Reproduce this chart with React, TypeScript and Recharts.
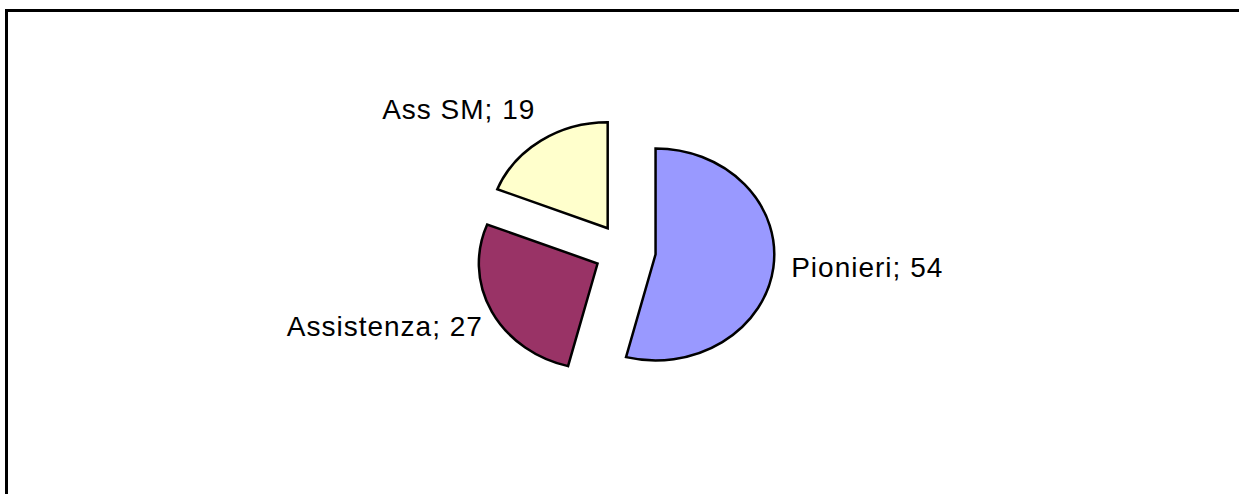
import { Pie, PieChart } from "recharts";

const names = ["Pionieri", "Assistenza", "Ass SM"];
const values = [54, 27, 19];
const colors = ["#9999FF", "#993366", "#FFFFCC"];

const data = names.map((name, i) => ({ name, value: values[i], fill: colors[i] }));

const RAD = Math.PI / 180;
// the pie in the picture is a little wider than tall
const SX = 1.12;
const EXPLODE = 27.5;
const FONT = 28;

function slicePoint(cx: number, cy: number, rx: number, ry: number, angle: number) {
  return [cx + rx * Math.cos(-angle * RAD), cy + ry * Math.sin(-angle * RAD)];
}

function ExplodedSlice(props: any) {
  const { cx, cy, outerRadius, startAngle, endAngle, fill } = props;
  const mid = props.midAngle ?? (startAngle + endAngle) / 2;
  const [ox, oy] = slicePoint(cx, cy, EXPLODE * SX, EXPLODE, mid);
  const rx = outerRadius * SX;
  const ry = outerRadius;
  const [x1, y1] = slicePoint(ox, oy, rx, ry, startAngle);
  const [x2, y2] = slicePoint(ox, oy, rx, ry, endAngle);
  const large = Math.abs(endAngle - startAngle) > 180 ? 1 : 0;
  const sweep = startAngle > endAngle ? 1 : 0;
  return (
    <path
      d={`M${ox},${oy}L${x1},${y1}A${rx},${ry} 0 ${large} ${sweep} ${x2},${y2}Z`}
      fill={fill}
      stroke="#000"
      strokeWidth={2.5}
      strokeLinejoin="miter"
    />
  );
}

// outside-end labels, roughly the way the spreadsheet placed them
function SliceLabel(props: any) {
  const { cx, cy, outerRadius, midAngle, name, value } = props;
  const [ox, oy] = slicePoint(cx, cy, EXPLODE * SX, EXPLODE, midAngle);
  const c = Math.cos(-midAngle * RAD);
  const s = Math.sin(-midAngle * RAD);
  const gap = c >= 0 ? 18 : 10;
  const x = ox + (outerRadius * SX + gap) * c;
  const capCenter = oy + (outerRadius + 18) * s + s * (s > 0 ? 26 : 13) - 6;
  return (
    <text
      x={x}
      y={capCenter + FONT * 0.36}
      textAnchor={c >= 0 ? "start" : "end"}
      fontFamily="'Liberation Sans', Arial, sans-serif"
      fontSize={FONT}
      letterSpacing={1}
      fill="#000"
    >
      {`${name}; ${value}`}
    </text>
  );
}

export default function App() {
  return (
    <div
      style={{
        position: "absolute",
        left: 0,
        top: 0,
        width: 1239,
        height: 494,
        overflow: "hidden",
        background: "#fff",
      }}
    >
      <div
        style={{
          position: "absolute",
          left: 5,
          top: 9,
          width: 1400,
          height: 700,
          borderTop: "3px solid #000",
          borderLeft: "3px solid #000",
        }}
      />
      <PieChart
        width={1239}
        height={494}
        margin={{ top: 0, right: 0, bottom: 0, left: 0 }}
        style={{ position: "absolute", left: 0, top: 0 }}
      >
        <Pie
          data={data}
          dataKey="value"
          nameKey="name"
          cx={625}
          cy={251}
          outerRadius={106}
          startAngle={90}
          endAngle={-270}
          stroke="#000"
          shape={ExplodedSlice}
          label={SliceLabel}
          labelLine={false}
          isAnimationActive={false}
        />
      </PieChart>
    </div>
  );
}
